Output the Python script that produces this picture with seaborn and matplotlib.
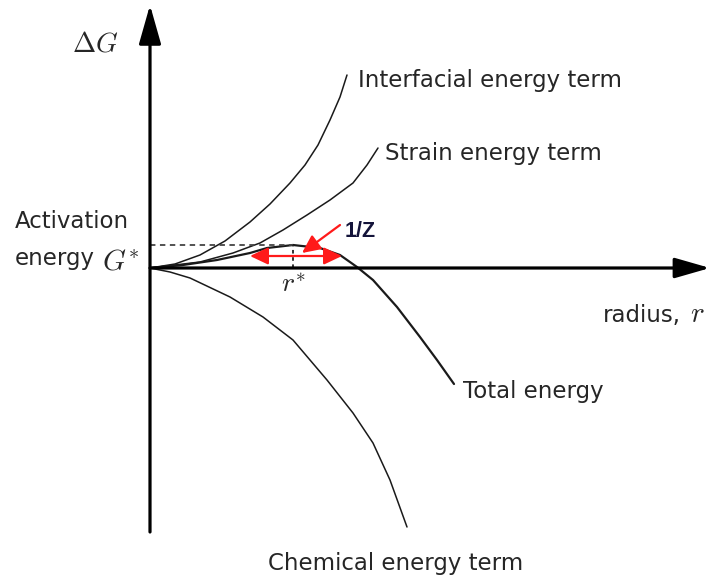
import matplotlib
matplotlib.use("Agg")
import matplotlib.pyplot as plt
import seaborn as sns
import pandas as pd

# ---- data (r = radius, g = free energy change) ----
interfacial_r = [0.00, 0.25, 0.50, 0.75, 1.00, 1.20, 1.40, 1.55, 1.68, 1.80, 1.90, 1.97]
interfacial_g = [0.00, 0.04, 0.13, 0.27, 0.46, 0.64, 0.85, 1.03, 1.23, 1.48, 1.71, 1.93]

strain_r = [0.00, 0.50, 0.83, 1.10, 1.33, 1.57, 1.80, 2.03, 2.17, 2.28]
strain_g = [0.00, 0.06, 0.15, 0.25, 0.38, 0.53, 0.68, 0.85, 1.03, 1.20]

total_r = [0.00, 0.33, 0.67, 1.00, 1.17, 1.43, 1.70, 1.90, 2.07, 2.23, 2.47, 2.70, 2.87, 3.04]
total_g = [0.00, 0.03, 0.08, 0.15, 0.20, 0.23, 0.20, 0.13, 0.01, -0.12, -0.39, -0.69, -0.92, -1.16]

chemical_r = [0.00, 0.20, 0.40, 0.80, 1.13, 1.43, 1.77, 2.03, 2.23, 2.40, 2.57]
chemical_g = [0.00, -0.04, -0.10, -0.29, -0.49, -0.72, -1.12, -1.45, -1.75, -2.12, -2.59]

r_star = 1.43          # critical radius
g_star = 0.23          # activation energy
zeldovich_span = [1.00, 1.92]   # extent of the 1/Z arrow
zeldovich_level = 0.12

curve_labels = ["Interfacial energy term", "Strain energy term", "Total energy", "Chemical energy term"]

# ---- figure ----
sns.set_theme(style="white")
plt.rcParams["font.family"] = ["DejaVu Sans"]
plt.rcParams["mathtext.fontset"] = "cm"

fig = plt.figure(figsize=(7.13, 5.77), dpi=100)
ax = fig.add_axes([0, 0, 1, 1])
ax.set_xlim(-1.50, 5.63)
ax.set_ylim(-3.09, 2.68)
ax.axis("off")

ink = "#1a1a1a"
txt = "#262626"

curves = [
    (interfacial_r, interfacial_g, 1.1),
    (strain_r, strain_g, 1.1),
    (total_r, total_g, 1.6),
    (chemical_r, chemical_g, 1.1),
]
for rr, gg, lw in curves:
    df = pd.DataFrame({"r": rr, "g": gg})
    sns.lineplot(data=df, x="r", y="g", sort=False, estimator=None,
                 color=ink, lw=lw, ax=ax, legend=False)

# axes with arrows
ax.annotate("", xy=(0, 2.63), xytext=(0, -2.64),
            arrowprops=dict(arrowstyle="-|>,head_length=1.2,head_width=0.34",
                            lw=2.3, color="black", shrinkA=0, shrinkB=0,
                            mutation_scale=20))
ax.annotate("", xy=(5.60, 0), xytext=(0, 0),
            arrowprops=dict(arrowstyle="-|>,head_length=1.08,head_width=0.31",
                            lw=2.3, color="black", shrinkA=0, shrinkB=0,
                            mutation_scale=20))

# dashed guides at the barrier
ax.plot([0, r_star], [g_star, g_star], ls=(0, (3, 2.5)), color="#444444", lw=1.3)
ax.plot([r_star, r_star], [0, g_star], ls=(0, (2, 2)), color="#222222", lw=1.3)

# 1/Z arrows
red = "#ff1a1a"
ax.annotate("", xy=(zeldovich_span[0], zeldovich_level), xytext=(zeldovich_span[1], zeldovich_level),
            arrowprops=dict(arrowstyle="<|-|>,head_length=0.55,head_width=0.26",
                            lw=1.6, color=red, shrinkA=0, shrinkB=0, mutation_scale=20))
ax.annotate("", xy=(1.52, 0.15), xytext=(1.90, 0.43),
            arrowprops=dict(arrowstyle="-|>,head_length=0.55,head_width=0.26",
                            lw=1.6, color=red, shrinkA=0, shrinkB=0, mutation_scale=20))
ax.text(1.95, 0.31, "1/Z", fontsize=15.5, fontweight="bold", color="#14143a",
        family=["Liberation Sans", "DejaVu Sans"], ha="left", va="baseline")

# labels
fs = 16.5
ax.text(-0.55, 2.25, r"$\Delta G$", fontsize=20, color=txt, ha="center", va="center")
ax.text(-1.35, 0.40, "Activation", fontsize=fs, color=txt, ha="left", va="baseline")
ax.text(-1.35, 0.03, "energy", fontsize=fs, color=txt, ha="left", va="baseline")
ax.text(-0.48, -0.02, r"$G^{*}$", fontsize=21, color=txt, ha="left", va="baseline")
ax.text(r_star, -0.16, r"$r^{*}$", fontsize=20, color=txt, ha="center", va="center")
ax.text(4.53, -0.54, "radius,", fontsize=fs, color=txt, ha="left", va="baseline")
ax.text(5.40, -0.54, r"$r$", fontsize=21, color=txt, ha="left", va="baseline")

ax.text(2.08, 1.81, curve_labels[0], fontsize=fs, color=txt, ha="left", va="baseline")
ax.text(2.35, 1.08, curve_labels[1], fontsize=fs, color=txt, ha="left", va="baseline")
ax.text(3.13, -1.30, curve_labels[2], fontsize=fs, color=txt, ha="left", va="baseline")
ax.text(1.18, -3.02, curve_labels[3], fontsize=fs, color=txt, ha="left", va="baseline")

fig.savefig("out.png", dpi=100)
